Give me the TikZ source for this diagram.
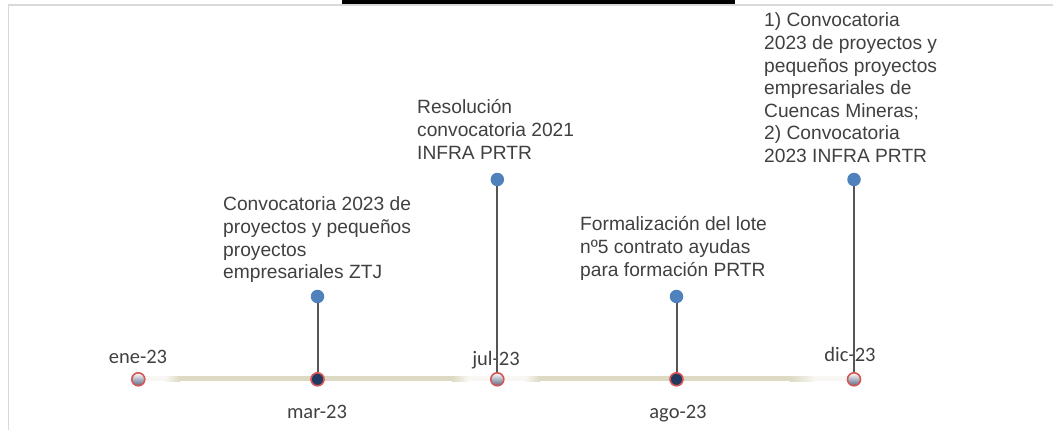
\documentclass[tikz,border=0pt]{standalone}
\usepackage{fontspec}
\newfontfamily\arialf{Liberation Sans}
\newfontfamily\calf{Carlito}
\definecolor{txt}{RGB}{64,64,64}
\definecolor{beige}{RGB}{221,217,195}
\definecolor{redb}{RGB}{214,86,86}
\definecolor{navy}{RGB}{33,58,98}
\definecolor{blued}{RGB}{79,129,189}
\definecolor{stemc}{RGB}{85,85,85}
\definecolor{frame}{RGB}{217,217,217}
\newcommand\mlines[1]{\vtop{\baselineskip=22.6pt\lineskiplimit=-20pt\halign{##\hfil\cr#1\crcr}}}
\tikzset{
  evtext/.style={anchor=base west, inner sep=0pt, text=txt, font=\arialf\fontsize{19.2}{22.6}\selectfont},
  datelbl/.style={anchor=base, inner sep=0pt, text=txt, font=\calf\fontsize{20.5}{24}\selectfont},
  stemline/.style={draw=stemc, line width=2pt},
  bluedot/.style={circle, fill=blued, minimum size=13.5pt, inner sep=0pt},
  navydot/.style={circle, fill=navy, draw=redb, line width=1.6pt, minimum size=13pt, inner sep=0pt},
  graydot/.style={circle, draw=redb, line width=1.6pt, minimum size=13pt, inner sep=0pt,
     top color=white, bottom color={rgb,255:red,88;green,104;blue,134}},
}
\begin{document}
\begin{tikzpicture}[x=1pt,y=-1pt]
\useasboundingbox (0,0) rectangle (1053,430);
% frame
\draw[frame, line width=1.5pt] (8.5,430) -- (8.5,5) -- (1053,5);
\fill[black] (342,0) rectangle (735,4);
% timeline
\fill[beige!20] (138,376.5) rectangle (165,381.5);
\shade[left color=beige!20, right color=beige] (165,376.5) rectangle (180,381.5);
\fill[beige] (180,376.5) rectangle (452,381.5);
\shade[left color=beige, right color=beige!20] (452,376.5) rectangle (468,381.5);
\fill[beige!20] (468,376.5) rectangle (525,381.5);
\shade[left color=beige!20, right color=beige] (525,376.5) rectangle (540,381.5);
\fill[beige] (540,376.5) rectangle (790,381.5);
\shade[left color=beige, right color=beige!20] (790,376.5) rectangle (815,381.5);
\fill[beige!20] (815,376.5) rectangle (855,381.5);
% date labels
\node[datelbl] (lene) at (138,364) {ene-23};
\node[datelbl] (lmar) at (317,418) {mar-23};
\node[datelbl] (ljul) at (496,366) {jul-23};
\node[datelbl] (lago) at (678,419) {ago-23};
\node[datelbl] (ldic) at (850,362) {dic-23};
% top dots
\node[bluedot] (bmar) at (317.5,296.5) {};
\node[bluedot] (bjul) at (497.3,179.5) {};
\node[bluedot] (bago) at (676.5,296.5) {};
\node[bluedot] (bdic) at (854,179.5) {};
% timeline dots
\node[graydot] (dene) at (138.3,379.3) {};
\node[navydot] (dmar) at (317.5,379.3) {};
\node[graydot] (djul) at (497.3,379.3) {};
\node[navydot] (dago) at (676.5,379.3) {};
\node[graydot] (ddic) at (854,379.3) {};
% stems
\draw[stemline] (dmar.north) -- (bmar.south);
\draw[stemline] (djul.north) -- (bjul.south);
\draw[stemline] (dago.north) -- (bago.south);
\draw[stemline] (ddic.north) -- (bdic.south);
% event texts
\node[evtext] (tmar) at (223,211) {\mlines{Convocatoria 2023 de\cr proyectos y pequeños\cr proyectos\cr empresariales ZTJ}};
\node[evtext] (tjul) at (417,114) {\mlines{Resolución\cr convocatoria 2021\cr INFRA PRTR}};
\node[evtext] (tago) at (580,231) {\mlines{Formalización del lote\cr nº5 contrato ayudas\cr para formación PRTR}};
\node[evtext] (tdic) at (764,27) {\mlines{1) Convocatoria\cr 2023 de proyectos y\cr pequeños proyectos\cr empresariales de\cr Cuencas Mineras;\cr 2) Convocatoria\cr 2023 INFRA PRTR}};
\end{tikzpicture}
\end{document}
